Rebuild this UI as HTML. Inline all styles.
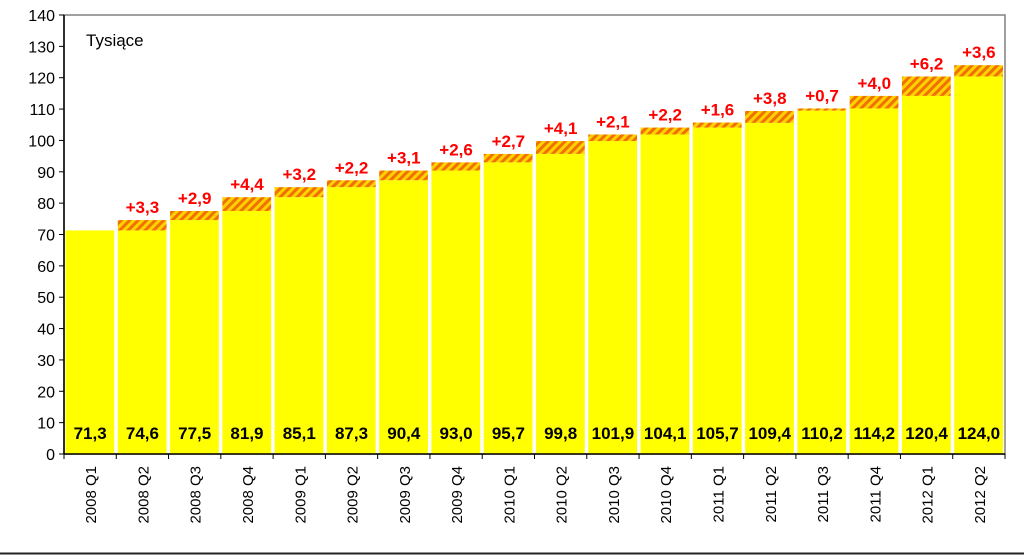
<!DOCTYPE html>
<html><head><meta charset="utf-8"><style>
body{margin:0;background:#fff;}
svg text{font-family:"Liberation Sans",sans-serif;}
</style></head><body>
<svg id="chart" width="1024" height="555" xmlns="http://www.w3.org/2000/svg">
<defs>
<pattern id="hatch" patternUnits="userSpaceOnUse" width="6" height="6" patternTransform="rotate(45)">
<rect width="6" height="6" fill="#ffd200"/>
<rect width="3" height="6" fill="#f07000"/>
</pattern>
</defs>
<rect x="0" y="0" width="1024" height="555" fill="#fff"/>
<line x1="0" y1="553.5" x2="1024" y2="553.5" stroke="#222" stroke-width="2"/>
<rect x="64" y="15" width="941" height="439" fill="none" stroke="#808080" stroke-width="1.5"/>
<text x="86" y="46" font-size="17" fill="#000">Tysiące</text>
<g id="bars"></g>
<g id="axes"></g>
</svg>
<script>
const categories=["2008 Q1","2008 Q2","2008 Q3","2008 Q4","2009 Q1","2009 Q2","2009 Q3","2009 Q4","2010 Q1","2010 Q2","2010 Q3","2010 Q4","2011 Q1","2011 Q2","2011 Q3","2011 Q4","2012 Q1","2012 Q2"];
const totals=[71.3,74.6,77.5,81.9,85.1,87.3,90.4,93.0,95.7,99.8,101.9,104.1,105.7,109.4,110.2,114.2,120.4,124.0];
const increments=[null,3.3,2.9,4.4,3.2,2.2,3.1,2.6,2.7,4.1,2.1,2.2,1.6,3.8,0.7,4.0,6.2,3.6];
const yTicks=[0,10,20,30,40,50,60,70,80,90,100,110,120,130,140];
const NS="http://www.w3.org/2000/svg";
const X0=64,X1=1005,Y0=454,Y1=15,YMAX=140;
const slot=(X1-X0)/categories.length;
const y=v=>Y0-(v/YMAX)*(Y0-Y1);
const x=i=>X0+i*slot;
const fmt=v=>v.toFixed(1).replace('.',',');
function mk(tag,attrs,parent){const e=document.createElementNS(NS,tag);for(const k in attrs)e.setAttribute(k,attrs[k]);parent.appendChild(e);return e;}
const bars=document.getElementById('bars'),axes=document.getElementById('axes');
categories.forEach((c,i)=>{
  const bx=x(i)+1.5,bw=slot-3.5;
  const inc=increments[i]||0;
  const base=totals[i]-inc;
  const r=mk('rect',{x:bx,y:y(base),width:bw,height:Y0-y(base),fill:'#ffff00'},bars);
  
  
  if(increments[i]!==null){
    const h=mk('rect',{x:bx,y:y(totals[i]),width:bw,height:y(base)-y(totals[i]),fill:'url(#hatch)'},bars);
    
    
    const t=mk('text',{x:x(i)+slot/2,y:y(totals[i])-7,'text-anchor':'middle','font-size':'17','font-weight':'bold',fill:'#ff0000'},bars);
    t.textContent='+'+fmt(increments[i]);
    
    
  }
  const v=mk('text',{x:x(i)+slot/2,y:439,'text-anchor':'middle','font-size':'17','font-weight':'bold',fill:'#000'},bars);
  v.textContent=fmt(totals[i]);
  
  
  const tk=mk('line',{x1:x(i),y1:Y0,x2:x(i),y2:Y0+5,stroke:'#000'},axes);
  
  
  const cx=x(i)+slot/2+6,cy=Y0+12;
  const ct=mk('text',{x:cx,y:cy,'text-anchor':'end','font-size':'15',fill:'#000',transform:`rotate(-90 ${cx} ${cy})`},axes);
  ct.textContent=c;
  
  
});
const lastTk=mk('line',{x1:X1,y1:Y0,x2:X1,y2:Y0+5,stroke:'#000'},axes);


yTicks.forEach(t=>{
  const l=mk('line',{x1:X0-5,y1:y(t),x2:X0,y2:y(t),stroke:'#000'},axes);
  
  
  const tx=mk('text',{x:X0-9,y:y(t)+6,'text-anchor':'end','font-size':'16',fill:'#000'},axes);
  tx.textContent=t;
  
  
});
const ya=mk('line',{x1:X0,y1:Y1,x2:X0,y2:Y0,stroke:'#000','stroke-width':1.5},axes);


const xa=mk('line',{x1:X0,y1:Y0,x2:X1,y2:Y0,stroke:'#000','stroke-width':1.5},axes);


</script>
</body></html>
